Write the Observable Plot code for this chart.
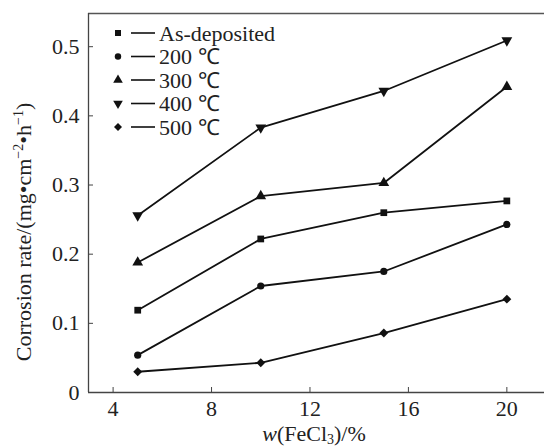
<!DOCTYPE html>
<html>
<head>
<meta charset="utf-8">
<script src="https://cdn.jsdelivr.net/npm/d3@7"></script>
<script src="https://cdn.jsdelivr.net/npm/@observablehq/plot@0.6"></script>
<style>
  html, body { margin: 0; padding: 0; background: #fff; }
  svg { display: block; }
</style>
</head>
<body>
<div id="chart"></div>
<script>
// ---- data ----
const xValues = [5, 10, 15, 20];
const seriesNames = ["As-deposited", "200 \u2103", "300 \u2103", "400 \u2103", "500 \u2103"];
const asDeposited = [0.119, 0.222, 0.260, 0.277];
const t200 = [0.054, 0.154, 0.175, 0.243];
const t300 = [0.188, 0.284, 0.303, 0.442];
const t400 = [0.256, 0.383, 0.436, 0.509];
const t500 = [0.030, 0.043, 0.086, 0.135];
const xTicks = [4, 8, 12, 16, 20];
const yTicks = [0, 0.1, 0.2, 0.3, 0.4, 0.5];
const xDomain = [3, 21.53];
const yDomain = [0, 0.548];

const FONT = "Liberation Serif";

const triDown = {
  draw(ctx, size) {
    const s3 = Math.sqrt(3);
    const y = -Math.sqrt(size / (s3 * 3));
    ctx.moveTo(0, -y * 2);
    ctx.lineTo(s3 * y, y);
    ctx.lineTo(-s3 * y, y);
    ctx.closePath();
  }
};
const symbols = [d3.symbolSquare, d3.symbolCircle, d3.symbolTriangle, triDown, d3.symbolDiamond2];
const radii = [3.8, 3.6, 4.0, 4.0, 4.0];
const allSeries = [asDeposited, t200, t300, t400, t500];

const rows = [];
allSeries.forEach((vals, i) => vals.forEach((v, j) => rows.push({series: seriesNames[i], x: xValues[j], y: v})));

const W = 544, H = 447;
const marks = [
  Plot.ruleY([yDomain[1]], {stroke: "#555", strokeWidth: 1.3}),
  Plot.ruleY([0], {stroke: "#444", strokeWidth: 1.3}),
  Plot.ruleX([xDomain[0]], {stroke: "#444", strokeWidth: 1.3}),
  Plot.axisX({ticks: xTicks, tickSize: -5, tickPadding: 13, stroke: "#444", fill: "#222"}),
  Plot.axisY({ticks: yTicks, tickSize: -5, tickPadding: 14, stroke: "#444", fill: "#222",
    tickFormat: d => d === 0 ? "0" : d3.format(".1f")(d)}),
  Plot.line(rows, {x: "x", y: "y", z: "series", stroke: "#111", strokeWidth: 1.8})
];
seriesNames.forEach((name, i) => {
  marks.push(Plot.dot(rows.filter(d => d.series === name), {x: "x", y: "y", symbol: symbols[i], r: radii[i], fill: "#111", stroke: "none"}));
});

const plot = Plot.plot({
  width: W, height: H,
  marginLeft: 88, marginRight: 0, marginTop: 13, marginBottom: 55,
  x: {domain: xDomain, label: null},
  y: {domain: yDomain, label: null},
  style: {fontFamily: FONT, fontSize: "22px", background: "#fff", color: "#222"},
  marks
});
document.getElementById("chart").appendChild(plot);

const svg = d3.select(plot);
// legend
const leg = svg.append("g").attr("font-family", FONT).attr("font-size", 22).attr("fill", "#222").attr("text-anchor", "start");
seriesNames.forEach((name, i) => {
  const cy = 33 + i * 23.5;
  leg.append("path").attr("transform", `translate(118,${cy})`)
    .attr("d", d3.symbol().type(symbols[i]).size(Math.PI * radii[i] * radii[i] * 0.8)()).attr("fill", "#111");
  leg.append("line").attr("x1", 131).attr("x2", 155).attr("y1", cy).attr("y2", cy).attr("stroke", "#111").attr("stroke-width", 1.6);
  leg.append("text").attr("x", 159).attr("y", cy).attr("dy", "0.35em").text(name);
});

// y label
const yl = svg.append("text").attr("transform", "translate(31,232) rotate(-90)")
  .attr("text-anchor", "middle").attr("font-family", FONT).attr("font-size", 22).attr("fill", "#222");
yl.append("tspan").text("Corrosion rate/(mg\u2022cm");
yl.append("tspan").attr("dy", -8).attr("font-size", 14).text("\u22122");
yl.append("tspan").attr("dy", 8).text("\u2022h");
yl.append("tspan").attr("dy", -8).attr("font-size", 14).text("\u22121");
yl.append("tspan").attr("dy", 8).text(")");

// x label
const xl = svg.append("text").attr("x", 314).attr("y", 441)
  .attr("text-anchor", "middle").attr("font-family", FONT).attr("font-size", 22).attr("fill", "#222");
xl.append("tspan").attr("font-style", "italic").text("w");
xl.append("tspan").text("(FeCl");
xl.append("tspan").attr("dy", 3).attr("font-size", 14).text("3");
xl.append("tspan").attr("dy", -3).text(")/%");
</script>
</body>
</html>
